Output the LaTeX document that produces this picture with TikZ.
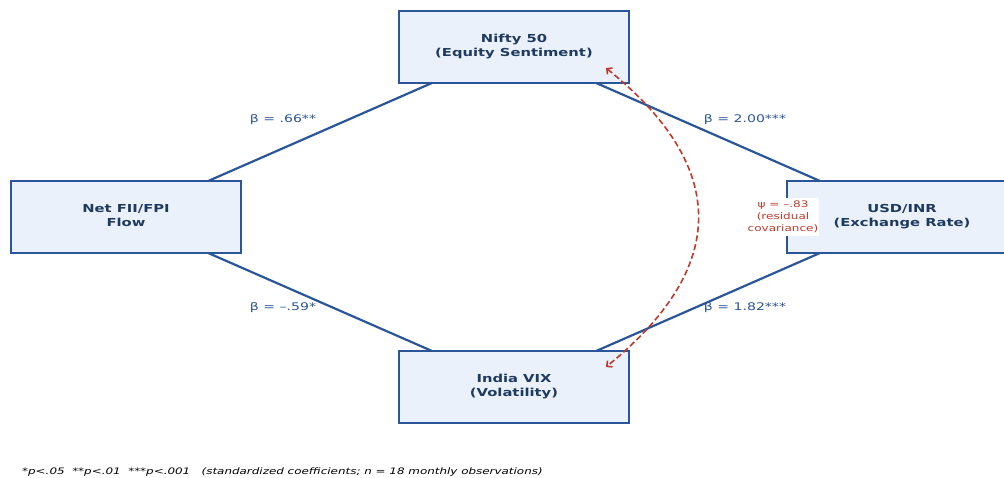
\documentclass[tikz,border=0pt]{standalone}
\usepackage{fontspec}
\setmainfont{DejaVu Sans}
\usetikzlibrary{positioning, arrows, arrows.meta}
\definecolor{pathblue}{HTML}{2A5599}
\definecolor{boxnavy}{HTML}{1F3A5F}
\definecolor{boxfill}{HTML}{EAF1FB}
\definecolor{covred}{HTML}{C0392B}
% the reference text is set wider than high
\newcommand{\widetext}[1]{\scalebox{1.34}[1]{\begin{tabular}{@{}c@{}}#1\end{tabular}}}
\tikzset{
    varbox/.style={rectangle, minimum width=230pt, minimum height=72pt, outer sep=0pt, text centered, draw=pathblue, fill=boxfill, line width=1.8pt, text=boxnavy, font=\fontsize{11}{13.5}\selectfont\bfseries},
    regpath/.style={draw=pathblue, line width=2.2pt},
    coeff/.style={text=pathblue, font=\fontsize{10.5}{12}\selectfont},
    covpath/.style={draw=covred, dash pattern=on 6pt off 3pt, line width=1.6pt, {Straight Barb[length=4pt,width=8pt]}-{Straight Barb[length=4pt,width=8pt]}},
}
\begin{document}
\begin{tikzpicture}[x=1pt, y=-1pt]
  \useasboundingbox (0,0) rectangle (1004,478);

  \node[varbox] (fii) at (126,217) {\widetext{Net FII/FPI\\Flow}};
  \node[varbox] (nifty) [above right=98pt and 158pt of fii] {\widetext{Nifty 50\\(Equity Sentiment)}};
  \node[varbox] (vix) [below right=98pt and 158pt of fii] {\widetext{India VIX\\(Volatility)}};
  \node[varbox] (usd) [right=546pt of fii] {\widetext{USD/INR\\(Exchange Rate)}};

  % structural paths
  \path[regpath] (fii) -- (nifty);
  \path[regpath] (fii) -- (vix);
  \path[regpath] (nifty) -- (usd);
  \path[regpath] (vix) -- (usd);

  \node[coeff] (b1) at (283,120) {\widetext{β = .66**}};
  \node[coeff] (b2) at (283,308) {\widetext{β = –.59*}};
  \node[coeff] (b3) at (745,120) {\widetext{β = 2.00***}};
  \node[coeff] (b4) at (745,308) {\widetext{β = 1.82***}};

  % residual covariance
  \coordinate (covA) at ([shift={(-23,-15)}]nifty.south east);
  \coordinate (covB) at ([shift={(-23,-56)}]vix.south east);
  \draw[covpath] (covA) .. controls (729,167) and (729,267) .. (covB);
  \node[fill=white, text=covred, inner sep=1pt, font=\fontsize{9}{12}\selectfont] (psi) at (783,217) {\widetext{ψ = –.83\\(residual\\covariance)}};

  \node[anchor=west, inner sep=0pt, font=\fontsize{8.9}{10}\selectfont\itshape] (note) at (22,472) {\widetext{*p<.05\ \ **p<.01\ \ ***p<.001\ \ \ (standardized coefficients; n = 18 monthly observations)}};
\end{tikzpicture}
\end{document}
